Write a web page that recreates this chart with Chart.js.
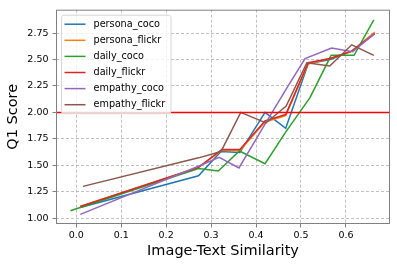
<!DOCTYPE html>
<html>
<head>
<meta charset="utf-8">
<script src="https://cdn.jsdelivr.net/npm/chart.js@4/dist/chart.umd.min.js"></script>
<style>
  html, body { margin: 0; padding: 0; background: #ffffff; }
  #wrap { width: 397px; height: 267px; }
</style>
</head>
<body>
<div id="wrap"><canvas id="c" width="397" height="267"></canvas></div>
<script>
// ---- data ----
const seriesLabels = ['persona_coco', 'persona_flickr', 'daily_coco', 'daily_flickr', 'empathy_coco', 'empathy_flickr'];
const seriesColors = ['#1f77b4', '#ff7f0e', '#2ca02c', '#d62728', '#9467bd', '#8c564b'];

const personaCocoX   = [0.009, 0.272, 0.322, 0.364, 0.420, 0.466, 0.516, 0.565, 0.613, 0.664];
const personaCocoY   = [1.10, 1.40, 1.63, 1.62, 2.00, 1.85, 2.46, 2.50, 2.58, 2.75];
const personaFlickrX = [0.009, 0.272, 0.324, 0.364, 0.420, 0.466, 0.516, 0.565, 0.613, 0.664];
const personaFlickrY = [1.11, 1.48, 1.64, 1.64, 1.91, 1.97, 2.46, 2.51, 2.58, 2.76];
const dailyCocoX     = [-0.013, 0.272, 0.316, 0.363, 0.420, 0.467, 0.520, 0.567, 0.618, 0.662];
const dailyCocoY     = [1.07, 1.47, 1.445, 1.635, 1.515, 1.82, 2.14, 2.54, 2.54, 2.875];
const dailyFlickrX   = [0.009, 0.272, 0.324, 0.364, 0.420, 0.466, 0.516, 0.565, 0.613, 0.664];
const dailyFlickrY   = [1.11, 1.48, 1.65, 1.65, 1.92, 1.98, 2.47, 2.51, 2.58, 2.745];
const empathyCocoX   = [0.009, 0.272, 0.318, 0.362, 0.420, 0.467, 0.509, 0.568, 0.615, 0.664];
const empathyCocoY   = [1.035, 1.49, 1.575, 1.475, 1.89, 2.22, 2.51, 2.61, 2.575, 2.745];
const empathyFlickrX = [0.015, 0.272, 0.322, 0.366, 0.422, 0.467, 0.513, 0.564, 0.613, 0.662];
const empathyFlickrY = [1.30, 1.57, 1.63, 2.00, 1.90, 2.06, 2.47, 2.44, 2.64, 2.54];

const xTicks = [0.0, 0.1, 0.2, 0.3, 0.4, 0.5, 0.6];
const yTicks = [1.00, 1.25, 1.50, 1.75, 2.00, 2.25, 2.50, 2.75];
const refLineValue = 2.0;
const xTitle = 'Image-Text Similarity';
const yTitle = 'Q1 Score';

// ---- build datasets ----
const seriesX = [personaCocoX, personaFlickrX, dailyCocoX, dailyFlickrX, empathyCocoX, empathyFlickrX];
const seriesY = [personaCocoY, personaFlickrY, dailyCocoY, dailyFlickrY, empathyCocoY, empathyFlickrY];

const datasets = seriesLabels.map((label, i) => ({
  label: label,
  data: seriesX[i].map((x, j) => ({ x: x, y: seriesY[i][j] })),
  borderColor: seriesColors[i],
  backgroundColor: seriesColors[i],
  borderWidth: 1.5,
  pointRadius: 0,
  pointHoverRadius: 0,
  tension: 0,
  fill: false,
  order: -i
}));

const FONT = '"DejaVu Sans", sans-serif';

const decorPlugin = {
  id: 'decor',
  afterDatasetsDraw(chart) {
    const ctx = chart.ctx;
    const a = chart.chartArea;
    const yPix = chart.scales.y.getPixelForValue(refLineValue);
    ctx.save();
    ctx.beginPath();
    ctx.rect(a.left, a.top, a.right - a.left, a.bottom - a.top);
    ctx.clip();
    ctx.strokeStyle = '#ff0000';
    ctx.lineWidth = 1.5;
    ctx.beginPath();
    ctx.moveTo(a.left, yPix);
    ctx.lineTo(a.right, yPix);
    ctx.stroke();
    ctx.restore();
    // spines
    ctx.save();
    ctx.strokeStyle = '#808080';
    ctx.lineWidth = 1;
    ctx.strokeRect(a.left + 0.5, a.top + 0.5, a.right - a.left - 1, a.bottom - a.top - 1);
    ctx.restore();
  },
  afterDraw(chart) {
    const ctx = chart.ctx;
    const a = chart.chartArea;
    const bx = a.left + 5.5, by = a.top + 5.5, bw = 109.5, bh = 98.5, r = 2.5;
    ctx.save();
    ctx.beginPath();
    ctx.moveTo(bx + r, by);
    ctx.lineTo(bx + bw - r, by);
    ctx.arcTo(bx + bw, by, bx + bw, by + r, r);
    ctx.lineTo(bx + bw, by + bh - r);
    ctx.arcTo(bx + bw, by + bh, bx + bw - r, by + bh, r);
    ctx.lineTo(bx + r, by + bh);
    ctx.arcTo(bx, by + bh, bx, by + bh - r, r);
    ctx.lineTo(bx, by + r);
    ctx.arcTo(bx, by, bx + r, by, r);
    ctx.closePath();
    ctx.fillStyle = 'rgba(255,255,255,0.8)';
    ctx.fill();
    ctx.strokeStyle = '#d6d6d6';
    ctx.lineWidth = 1;
    ctx.stroke();
    ctx.font = '9.7px ' + FONT;
    ctx.textBaseline = 'middle';
    ctx.textAlign = 'left';
    chart.data.datasets.forEach((ds, i) => {
      const yy = by + 9 + i * 16.1;
      ctx.strokeStyle = ds.borderColor;
      ctx.lineWidth = 1.5;
      ctx.beginPath();
      ctx.moveTo(bx + 3, yy);
      ctx.lineTo(bx + 24, yy);
      ctx.stroke();
      ctx.fillStyle = '#000000';
      ctx.fillText(ds.label, bx + 32, yy);
    });
    ctx.restore();
  }
};

new Chart(document.getElementById('c'), {
  type: 'line',
  data: { datasets: datasets },
  plugins: [decorPlugin],
  options: {
    responsive: false,
    animation: false,
    devicePixelRatio: 1,
    layout: { padding: { top: 6, right: 7, left: 0, bottom: 0 } },
    plugins: { legend: { display: false }, tooltip: { enabled: false } },
    scales: {
      x: {
        type: 'linear',
        min: -0.045,
        max: 0.698,
        afterFit: (s) => { s.height = 43; },
        afterBuildTicks: (s) => { s.ticks = xTicks.map(v => ({ value: v })); },
        ticks: {
          font: { family: FONT, size: 9.5 },
          color: '#000000',
          padding: 2,
          maxRotation: 0,
          callback: (v) => Number(v).toFixed(1)
        },
        grid: {
          color: '#b0b0b0',
          lineWidth: 0.8,
          tickColor: '#808080',
          tickLength: 3.5,
          tickWidth: 1,
          tickBorderDash: [0, 0]
        },
        border: { display: false, dash: [3, 2] },
        title: {
          display: true,
          text: xTitle,
          font: { family: FONT, size: 14.5 },
          color: '#000000',
          padding: { top: 0, bottom: 7.3 }
        }
      },
      y: {
        type: 'linear',
        min: 0.944,
        max: 2.972,
        afterFit: (s) => { s.width = 56; },
        afterBuildTicks: (s) => { s.ticks = yTicks.map(v => ({ value: v })); },
        ticks: {
          font: { family: FONT, size: 9.5 },
          color: '#000000',
          padding: 4,
          callback: (v) => Number(v).toFixed(2)
        },
        grid: {
          color: '#b0b0b0',
          lineWidth: 0.8,
          tickColor: '#808080',
          tickLength: 3.5,
          tickWidth: 1,
          tickBorderDash: [0, 0]
        },
        border: { display: false, dash: [3, 2] },
        title: {
          display: true,
          text: yTitle,
          font: { family: FONT, size: 14.5 },
          color: '#000000',
          padding: { top: 4.8, bottom: 0 }
        }
      }
    }
  }
});
</script>
</body>
</html>
